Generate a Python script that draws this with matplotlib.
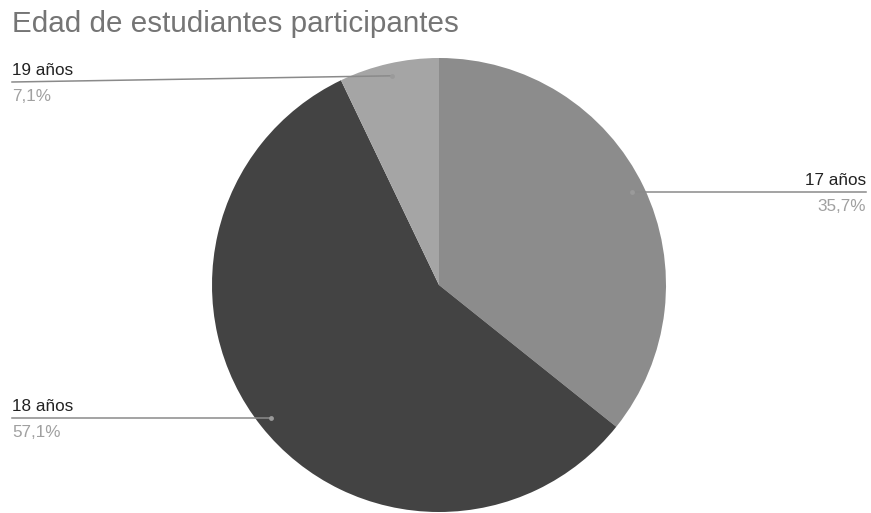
import numpy as np
import matplotlib.pyplot as plt

plt.rcParams['font.family'] = ['Liberation Sans', 'DejaVu Sans']

etiquetas = ['17 años', '18 años', '19 años']
valores = [35.7, 57.1, 7.1]
porcentajes = ['35,7%', '57,1%', '7,1%']
colores = ['#8c8c8c', '#434343', '#a5a5a5']

W, H = 871, 513
fig = plt.figure(figsize=(W / 100, H / 100), dpi=100)
ax = fig.add_axes([0, 0, 1, 1])

cx, cy, r = 439, H - 285, 227
wedges, _ = ax.pie(valores, colors=colores, startangle=90, counterclock=False,
                   center=(cx, cy), radius=r, frame=True,
                   wedgeprops=dict(linewidth=0))
ax.set_xlim(0, W)
ax.set_ylim(0, H)
ax.set_aspect('equal')
ax.axis('off')

# lado de la etiqueta; None = linea horizontal a la altura del punto
lado = ['right', 'left', 'left']
linea_y = [None, None, 82]

for w, et, pc, la, ly in zip(wedges, etiquetas, porcentajes, lado, linea_y):
    ang = np.deg2rad((w.theta1 + w.theta2) / 2)
    px = cx + 0.945 * r * np.cos(ang)
    py = cy + 0.945 * r * np.sin(ang)
    yy = py if ly is None else H - ly
    if la == 'right':
        x_fin, ha = 866, 'right'
    else:
        x_fin, ha = 12, 'left'
    ax.plot([px, x_fin], [py, yy], color='#8a8a8a', lw=1.1, zorder=3)
    ax.plot(px, py, 'o', ms=3.5, color='#9a9a9a', mec='none', zorder=4)
    ax.text(x_fin, yy + 4, et, ha=ha, va='bottom', fontsize=12.3, color='#222222')
    ax.text(x_fin, yy - 7, pc, ha=ha, va='top', fontsize=12.3, color='#a0a0a0')

fig.text(12 / W, 1 - 24 / H, 'Edad de estudiantes participantes', ha='left', va='center',
         fontsize=21.3, color='#757575')

fig.savefig('out.png', dpi=100)
